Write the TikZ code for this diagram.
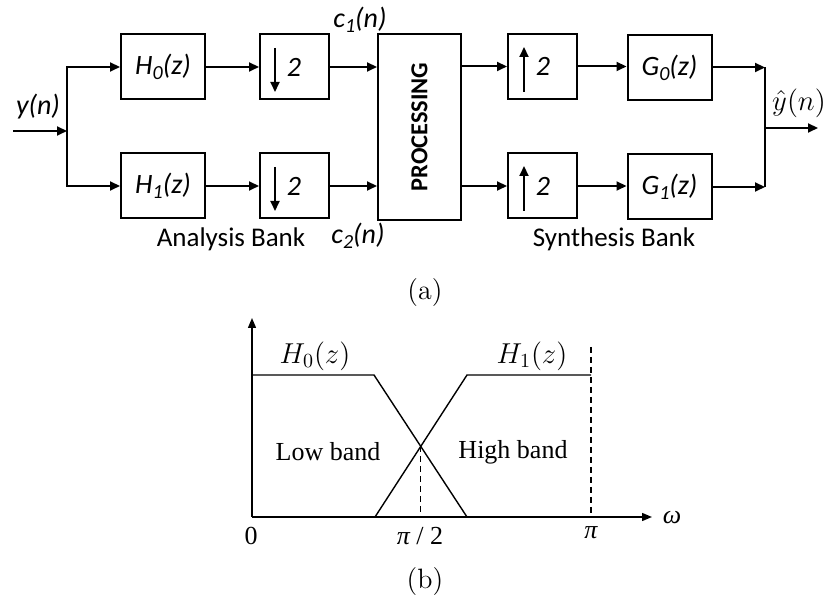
\documentclass[tikz,border=0pt]{standalone}
\usepackage{fontspec}
\newfontfamily\carfont{Carlito}
\newfontfamily\tmsfont{Liberation Serif}
\usetikzlibrary{arrows.meta}
\tikzset{
  blk/.style={draw, line width=1pt, minimum width=42pt, minimum height=32.5pt, inner sep=0pt, font=\carfont\itshape\fontsize{14}{16}\selectfont},
  smp/.style={draw, line width=1pt, minimum width=34.5pt, minimum height=32.5pt, inner sep=0pt},
  sig/.style={line width=1pt, -{Triangle[length=5pt,width=4.5pt]}},
  wire/.style={line width=1pt},
  lbl/.style={font=\carfont\itshape\fontsize{14}{16}\selectfont, inner sep=0pt},
  bank/.style={font=\carfont\fontsize{13.5}{15}\selectfont, inner sep=0pt},
  ax/.style={line width=0.7pt, -{Triangle[length=5pt,width=4pt]}},
  crv/.style={line width=0.7pt},
  dsh/.style={line width=0.7pt, dash pattern=on 3pt off 2pt},
  tm/.style={font=\tmsfont\fontsize{13}{15}\selectfont, inner sep=0pt},
}
\newcommand{\sbs}[1]{\raisebox{-0.35ex}{\fontsize{10}{11}\selectfont #1}}
\begin{document}
\begin{tikzpicture}[x=0.5pt,y=-0.5pt]
\useasboundingbox (0,0) rectangle (834,597);
% ---------- (a) filter bank ----------
\node[blk] (H0) at (163,67) {H\sbs{0}(z)};
\node[blk] (H1) at (163,186) {H\sbs{1}(z)};
\node[smp] (D0) at (294.5,67) {};
\node[smp] (D1) at (294.5,186) {};
\node[draw, line width=1pt, minimum width=41.5pt, minimum height=93pt, inner sep=0pt] (P) at (419.5,127) {};
\node[rotate=90, font=\carfont\bfseries\fontsize{12.2}{14}\selectfont] (PT) at (P.center) {PROCESSING};
\node[smp] (U0) at (542.5,66.5) {};
\node[smp] (U1) at (542.5,186) {};
\node[blk] (G0) at (669.5,67.5) {G\sbs{0}(z)};
\node[blk] (G1) at (669.5,187) {G\sbs{1}(z)};
% down/up samplers
\coordinate (d0t) at (275,48); \coordinate (d0b) at (275,92);
\coordinate (d1t) at (275,167); \coordinate (d1b) at (275,211);
\draw[line width=1pt, -{Triangle[length=5pt,width=4.5pt]}] (d0t) -- (d0b);
\draw[line width=1pt, -{Triangle[length=5pt,width=4.5pt]}] (d1t) -- (d1b);
\node[lbl] (D0n) at (294,67) {2};
\node[lbl] (D1n) at (294,186) {2};
\coordinate (u0b) at (524,92); \coordinate (u0t) at (524,47);
\coordinate (u1b) at (524,211); \coordinate (u1t) at (524,166);
\draw[line width=1pt, -{Triangle[length=5pt,width=4.5pt]}] (u0b) -- (u0t);
\draw[line width=1pt, -{Triangle[length=5pt,width=4.5pt]}] (u1b) -- (u1t);
\node[lbl] (U0n) at (543,66) {2};
\node[lbl] (U1n) at (543,186) {2};
% input
\coordinate (in) at (13,131);
\coordinate (sp) at (67,131);
\draw[sig] (in) -- (sp);
\draw[sig] (sp) |- (H0.west);
\draw[sig] (sp) |- (H1.west);
\draw[sig] (H0.east) -- (D0.west);
\draw[sig] (H1.east) -- (D1.west);
\draw[sig] (D0.east) -- (D0.east -| P.west);
\draw[sig] (D1.east) -- (D1.east -| P.west);
\draw[sig] (U0.west -| P.east) -- (U0.west);
\draw[sig] (U1.west -| P.east) -- (U1.west);
\draw[sig] (U0.east) -- (U0.east -| G0.west);
\draw[sig] (U1.east) -- (U1.east -| G1.west);
\coordinate (sum) at (765,128);
\coordinate (out) at (818,128);
\draw[sig] (G0.east) -- (G0.east -| sum);
\draw[sig] (G1.east) -- (G1.east -| sum);
\draw[wire] (G0.east -| sum) -- (G1.east -| sum);
\draw[sig] (sum) -- (out);
% labels
\node[lbl] (yn) at (38,107) {y(n)};
\node[lbl] (c1) at (360,20) {c\sbs{1}(n)};
\node[lbl] (c2) at (358,236) {c\sbs{2}(n)};
\node[bank] (ab) at (231,239) {Analysis Bank};
\node[bank] (sb) at (614,239) {Synthesis Bank};
\node[inner sep=0pt, font=\fontsize{14}{16}\selectfont] (yh) at (799,103) {$\hat{y}(n)$};
\node[inner sep=0pt, font=\fontsize{14}{16}\selectfont] (la) at (425,293) {(a)};
% ---------- (b) frequency response ----------
\coordinate (O) at (252,517);
\coordinate (yt) at (252,318);
\coordinate (xe) at (652,517);
\draw[ax] (O) -- (yt);
\draw[ax] (O) -- (xe);
\coordinate (h0a) at (252,375);
\coordinate (h0b) at (374,375);
\coordinate (h0c) at (467,517);
\coordinate (h1a) at (375,517);
\coordinate (h1b) at (467,375);
\coordinate (h1c) at (591,375);
\draw[crv] (h0a) -- (h0b) -- (h0c);
\draw[crv] (h1a) -- (h1b) -- (h1c);
\coordinate (cx) at (420.5,446);
\draw[dsh] (cx) -- (cx |- O);
\coordinate (pt) at (591,347);
\draw[dsh] (pt) -- (pt |- O);
\node[inner sep=0pt, font=\fontsize{14.2}{16}\selectfont] (h0l) at (315,356) {$H_0(z)$};
\node[inner sep=0pt, font=\fontsize{14.2}{16}\selectfont] (h1l) at (532,356) {$H_1(z)$};
\node[tm] (lb) at (328,452) {Low band};
\node[tm] (hb) at (513,452) {High band};
\node[tm] (z0) at (251,536) {0};
\node[tm] (p2) at (420,536) {\itshape π\upshape~/~2};
\node[tm] (pi) at (591,533) {\itshape π};
\node[tm] (om) at (672,518) {\itshape ω};
\node[inner sep=0pt, font=\fontsize{14}{16}\selectfont] (lbb) at (425,582) {(b)};
\end{tikzpicture}
\end{document}
